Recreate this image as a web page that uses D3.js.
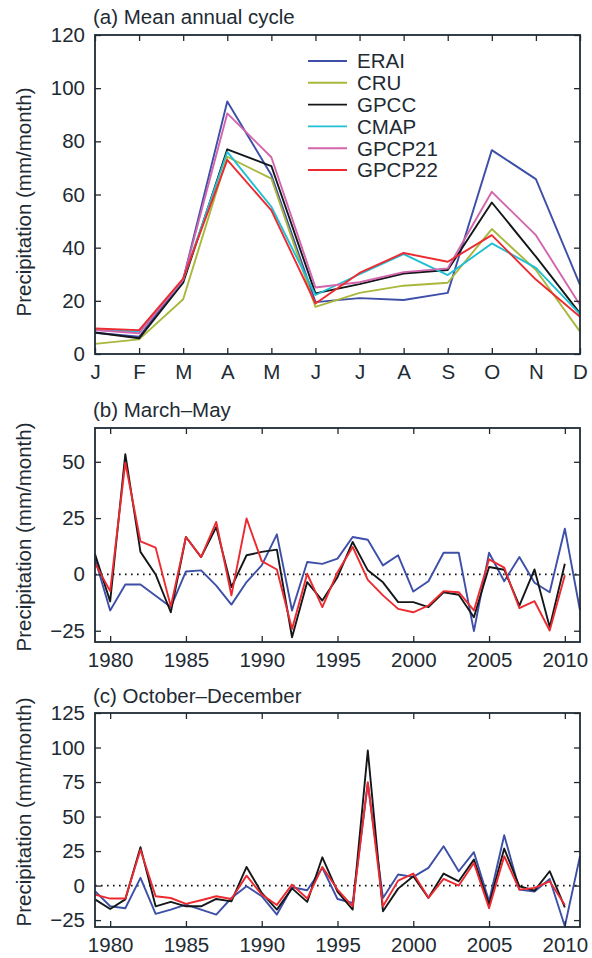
<!DOCTYPE html>
<html lang="en">
<head>
<meta charset="UTF-8">
<script src="https://cdn.jsdelivr.net/npm/d3@7"></script>
<style>
  body { margin: 0; background: #fff; }
  text { font-family: "Liberation Sans", Arial, Helvetica, sans-serif; fill: #1e2b33; }
</style>
</head>
<body>
<svg></svg>
<script>
// (a) mean annual cycle, mm/month
var months = ["J","F","M","A","M","J","J","A","S","O","N","D"];
var erai   = [8, 6.5, 28, 95, 67.3, 19.5, 21, 20.3, 23, 76.7, 65.8, 26];
var cru    = [3.8, 5.5, 20.6, 74.2, 66, 17.7, 23, 25.7, 26.8, 47, 31.6, 8.4];
var gpcc   = [8.1, 5.9, 26.8, 77, 70.7, 22.8, 26.3, 30.3, 31.6, 57, 36.6, 15.3];
var cmap   = [9, 8.5, 28, 76, 55.4, 22.2, 30, 37.6, 29.7, 41.6, 32.4, 15];
var gpcp21 = [9, 7.8, 28, 90.5, 74, 25, 27, 30.8, 32.2, 61, 44.7, 18.4];
var gpcp22 = [9.6, 9, 28.4, 73, 54, 19, 30.5, 38, 34.7, 44.7, 28, 14];

// (b), (c) anomalies from 1979
var firstYear = 1979;
var eraiMAM   = [7, -16, -4.5, -4.5, -9.5, -14.5, 1.3, 1.8, -5, -13.4, -3.4, 4, 17.8, -16, 5.5, 4.7, 7, 16.6, 15.4, 4, 8.5, -7.6, -3, 9.6, 9.6, -25.2, 9.6, -3, 7.7, -3.7, -7.9, 20.3, -16];
var gpccMAM   = [9, -12, 53.4, 10, 0, -16.8, 16.6, 7.7, 21, -5.6, 8.5, 10, 11, -27.9, -3.4, -11.6, -1.2, 14.4, 1.8, -3.5, -12.3, -12.3, -14.5, -7.9, -9, -19, 3.3, 2.1, -13.8, 2.2, -23.4, 4.7];
var gpcp22MAM = [5, -7.4, 49.6, 14.7, 11.9, -14.2, 16.6, 7.7, 23.3, -9.3, 24.8, 5.9, 2.2, -24.2, 0.3, -14.5, 1, 12.2, -2.4, -9.3, -15.3, -16.8, -13.8, -7.4, -7.9, -16, 6.7, 3, -15, -11.9, -24.9, -0.4];
var eraiOND   = [-4, -15, -16.4, 5.6, -20.5, -17.4, -13.8, -17.4, -21, -9, -0.5, -7.7, -21, -1.2, -3.4, 12.8, -9.7, -12.6, 74, -9, 8, 6.3, 12.8, 28.5, 10.4, 24.2, -11.4, 36.5, -2.9, -4.3, 4.8, -29.5, 21.3];
var gpccOND   = [-10, -17, -10, 27.8, -15, -11.8, -15, -15, -9.7, -11.4, 13.5, -5.3, -17.4, -2, -11.8, 20.5, -4.3, -17.4, 97.8, -18.6, -2.2, 6.8, -8.9, 8.7, 3.1, 18.8, -13.8, 26.8, -0.5, -3.6, 10.4, -15.7];
var gpcp22OND = [-6.5, -9.4, -9.4, 26, -7.7, -9, -13.3, -10.6, -7.7, -9.7, 7.2, -6.5, -14, 0.7, -9.4, 13.5, -2.9, -15, 74.9, -15, 3.6, 8.7, -8.9, 4.8, 0, 16.4, -16.4, 21.3, -2.9, -1.7, 3.1, -14];

var names  = ["ERAI","CRU","GPCC","CMAP","GPCP21","GPCP22"];
var colors = {ERAI:"#3d4fa7", CRU:"#a9b83c", GPCC:"#141719", CMAP:"#20bfd4", GPCP21:"#d265ad", GPCP22:"#ec2a30"};
var yearTicks = [1980, 1985, 1990, 1995, 2000, 2005, 2010];

var W = 592, H = 958, left = 95, right = 580, fs = 20.5;
var svg = d3.select("svg").attr("width", W).attr("height", H);
svg.append("rect").attr("width", W).attr("height", H).attr("fill", "#fff");

function minus(v) { return v < 0 ? "\u2212" + Math.abs(v) : "" + v; }

function panel(p) {
  var x = p.x, y = d3.scaleLinear().domain(p.ydom).range([p.bottom, p.top]);
  var g = svg.append("g");

  // zero line
  if (p.zero) {
    g.append("line").attr("x1", left).attr("x2", right)
      .attr("y1", y(0)).attr("y2", y(0))
      .attr("stroke", "#111").attr("stroke-width", 1.6)
      .attr("stroke-dasharray", "1.6 4.4");
  }

  var line = d3.line().x(function(d) { return x(d.k); }).y(function(d) { return y(d.v); });
  p.series.forEach(function(s) {
    var pts = s.values.map(function(v, i) { return {k: p.key(i), v: v}; });
    g.append("path").datum(pts).attr("d", line)
      .attr("fill", "none").attr("stroke", colors[s.name])
      .attr("stroke-width", 1.9).attr("stroke-linejoin", "round");
  });

  // axes with inward ticks, box all round
  var ax = [
    d3.axisLeft(y).tickValues(p.yticks).tickFormat(minus),
    d3.axisRight(y).tickValues(p.yticks).tickFormat(""),
    d3.axisBottom(x).tickValues(p.xticks).tickFormat(p.xfmt),
    d3.axisTop(x).tickValues(p.xticks).tickFormat("")
  ];
  var tr = ["translate(" + left + ",0)", "translate(" + right + ",0)",
            "translate(0," + p.bottom + ")", "translate(0," + p.top + ")"];
  ax.forEach(function(a, i) {
    var ag = g.append("g").attr("transform", tr[i])
      .call(a.tickSizeInner(-6).tickSizeOuter(0).tickPadding(i == 0 ? 10 : 10));
    ag.select(".domain").remove();
    ag.selectAll(".tick line").attr("stroke", "#1e2b33").attr("stroke-width", 1.3);
    ag.selectAll("text").attr("font-size", fs).attr("fill", "#1e2b33")
      .style("font-family", "'Liberation Sans', Arial, sans-serif");
  });
  g.append("rect").attr("x", left).attr("y", p.top)
    .attr("width", right - left).attr("height", p.bottom - p.top)
    .attr("fill", "none").attr("stroke", "#1e2b33").attr("stroke-width", 1.8);

  g.append("text").attr("x", 93).attr("y", p.titleY).attr("font-size", fs).text(p.title);
  g.append("text").attr("transform", "translate(23," + p.labelY + ") rotate(-90)")
    .attr("text-anchor", "middle").attr("dominant-baseline", "central")
    .attr("font-size", fs).text("Precipitation (mm/month)");
  return g;
}

var xm = d3.scaleLinear().domain([1, 12]).range([left, right]);
var ga = panel({
  x: xm, ydom: [0, 120], top: 35, bottom: 354,
  yticks: [0, 20, 40, 60, 80, 100, 120],
  xticks: d3.range(1, 13), xfmt: function(d) { return months[d - 1]; },
  key: function(i) { return i + 1; },
  series: [
    {name: "ERAI", values: erai}, {name: "CRU", values: cru}, {name: "GPCC", values: gpcc},
    {name: "CMAP", values: cmap}, {name: "GPCP21", values: gpcp21}, {name: "GPCP22", values: gpcp22}
  ],
  title: "(a) Mean annual cycle", titleY: 24, labelY: 202
});

// legend
names.forEach(function(n, i) {
  var ly = 61 + i * 21.8;
  ga.append("line").attr("x1", 308).attr("x2", 347).attr("y1", ly).attr("y2", ly)
    .attr("stroke", colors[n]).attr("stroke-width", 1.9);
  ga.append("text").attr("x", 357).attr("y", ly).attr("dy", "0.36em")
    .attr("font-size", fs).text(n);
});

var xy = d3.scaleLinear().domain([1979, 2011]).range([left, right]);
var yearKey = function(i) { return firstYear + i; };

panel({
  x: xy, ydom: [-30, 65], top: 428, bottom: 642, zero: true,
  yticks: [-25, 0, 25, 50], xticks: yearTicks, xfmt: d3.format("d"), key: yearKey,
  series: [{name: "ERAI", values: eraiMAM}, {name: "GPCC", values: gpccMAM}, {name: "GPCP22", values: gpcp22MAM}],
  title: "(b) March\u2013May", titleY: 417, labelY: 537
});

panel({
  x: xy, ydom: [-30, 125], top: 713, bottom: 927, zero: true,
  yticks: [-25, 0, 25, 50, 75, 100, 125], xticks: yearTicks, xfmt: d3.format("d"), key: yearKey,
  series: [{name: "ERAI", values: eraiOND}, {name: "GPCC", values: gpccOND}, {name: "GPCP22", values: gpcp22OND}],
  title: "(c) October\u2013December", titleY: 703, labelY: 812
});
</script>
</body>
</html>
